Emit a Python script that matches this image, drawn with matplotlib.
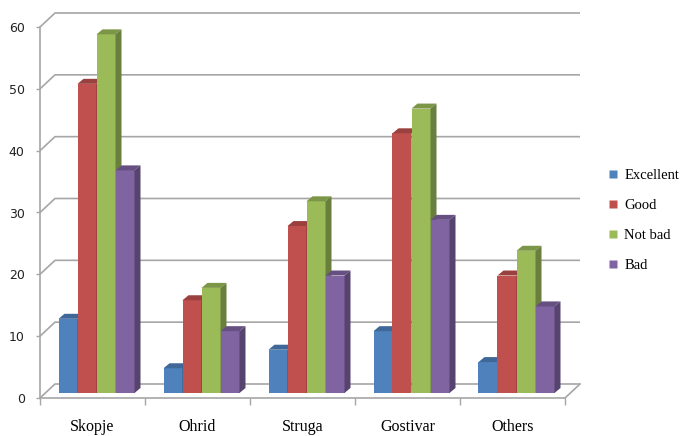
import matplotlib
matplotlib.use("Agg")
import matplotlib.pyplot as plt
from matplotlib.patches import Polygon
from matplotlib.lines import Line2D
import numpy as np

# ---- data -------------------------------------------------------------
cities = ["Skopje", "Ohrid", "Struga", "Gostivar", "Others"]
series = ["Excellent", "Good", "Not bad", "Bad"]
excellent = [12, 4, 7, 10, 5]
good = [50, 15, 27, 42, 19]
not_bad = [58, 17, 31, 46, 23]
bad = [36, 10, 19, 28, 14]
y_ticks = [0, 10, 20, 30, 40, 50, 60]

values = [excellent, good, not_bad, bad]
colors = ["#4F81BD", "#C0504D", "#9BBB59", "#8064A2"]


def shade(hex_color, f):
    c = np.array(matplotlib.colors.to_rgb(hex_color))
    return tuple(np.clip(c * f, 0, 1))


# ---- figure / axes ----------------------------------------------------
W, H = 681, 436
fig = plt.figure(figsize=(W / 100, H / 100), dpi=100)
ax = fig.add_axes([40 / W, 38 / H, 525 / W, 371 / H])
ax.set_xlim(0, 5)
ax.set_ylim(0, 60)

px_x = 1 / 105.0           # one pixel in category units
px_y = 60 / 371.0          # one pixel in value units

# depth of the back wall, and placement of the bars inside the box
WALL_DX, WALL_DY = 15 * px_x, 14 * px_y
BAR_DX, BAR_DY = 4 * px_x, 5 * px_y      # front face offset from front plane
DEP_DX, DEP_DY = 6 * px_x, 5 * px_y      # visible depth of each bar
bar_w = 19 * px_x

grid_c = "#A6A6A6"
grid_lw = 1.2

# gridlines: diagonal on the side wall + horizontal on the back wall
for v in y_ticks:
    ax.plot([0, WALL_DX, 5 + WALL_DX], [v, v + WALL_DY, v + WALL_DY],
            color=grid_c, lw=grid_lw, clip_on=False, zorder=1,
            solid_capstyle="butt")
# right edge of the floor
ax.plot([5, 5 + WALL_DX], [0, WALL_DY], color=grid_c, lw=grid_lw,
        clip_on=False, zorder=1)

# ---- bars -------------------------------------------------------------
group_w = bar_w * len(series)
z = 3
for ci in range(len(cities)):
    x0 = ci + 0.5 - group_w / 2 + BAR_DX
    for si, (vals, col) in enumerate(zip(values, colors)):
        v = vals[ci]
        xl = x0 + si * bar_w
        b = BAR_DY
        ax.bar(xl, v, width=bar_w, bottom=b, align="edge", color=col,
               edgecolor="none", zorder=z, clip_on=False)
        top = Polygon([(xl, b + v), (xl + bar_w, b + v),
                       (xl + bar_w + DEP_DX, b + v + DEP_DY),
                       (xl + DEP_DX, b + v + DEP_DY)],
                      closed=True, facecolor=shade(col, 0.80),
                      edgecolor="none", zorder=z, clip_on=False)
        side = Polygon([(xl + bar_w, b), (xl + bar_w + DEP_DX, b + DEP_DY),
                        (xl + bar_w + DEP_DX, b + v + DEP_DY),
                        (xl + bar_w, b + v)],
                       closed=True, facecolor=shade(col, 0.68),
                       edgecolor="none", zorder=z, clip_on=False)
        ax.add_patch(top)
        ax.add_patch(side)
        z += 1

# ---- axes styling -----------------------------------------------------
for s in ["top", "right"]:
    ax.spines[s].set_visible(False)
for s in ["left", "bottom"]:
    ax.spines[s].set_color(grid_c)
    ax.spines[s].set_linewidth(grid_lw)
    ax.spines[s].set_zorder(2)

ax.set_yticks(y_ticks)
ax.set_yticklabels([str(t) for t in y_ticks])
ax.tick_params(axis="y", length=3, width=1, color=grid_c, pad=8,
               labelsize=9, labelcolor="#222222")

ax.set_xticks(np.arange(0, 6))
ax.set_xticklabels([])
ax.set_xticks(np.arange(len(cities)) + 0.5, minor=True)
ax.set_xticklabels(cities, minor=True, fontfamily="Liberation Serif",
                   fontsize=11.5)
ax.tick_params(axis="x", which="major", length=5, width=1, color=grid_c)
ax.tick_params(axis="x", which="minor", length=0, pad=15)

# ---- legend -----------------------------------------------------------
handles = [Line2D([], [], marker="s", linestyle="none", markersize=5.5,
                  markerfacecolor=c, markeredgecolor="none") for c in colors]
fig.legend(handles, series, loc="upper left",
           bbox_to_anchor=(603 / W, 1 - 163 / H), frameon=False,
           prop={"family": "Liberation Serif", "size": 10.5},
           handlelength=0.6, handletextpad=0.45, labelspacing=1.15,
           borderaxespad=0)

fig.savefig("out.png", dpi=100)
